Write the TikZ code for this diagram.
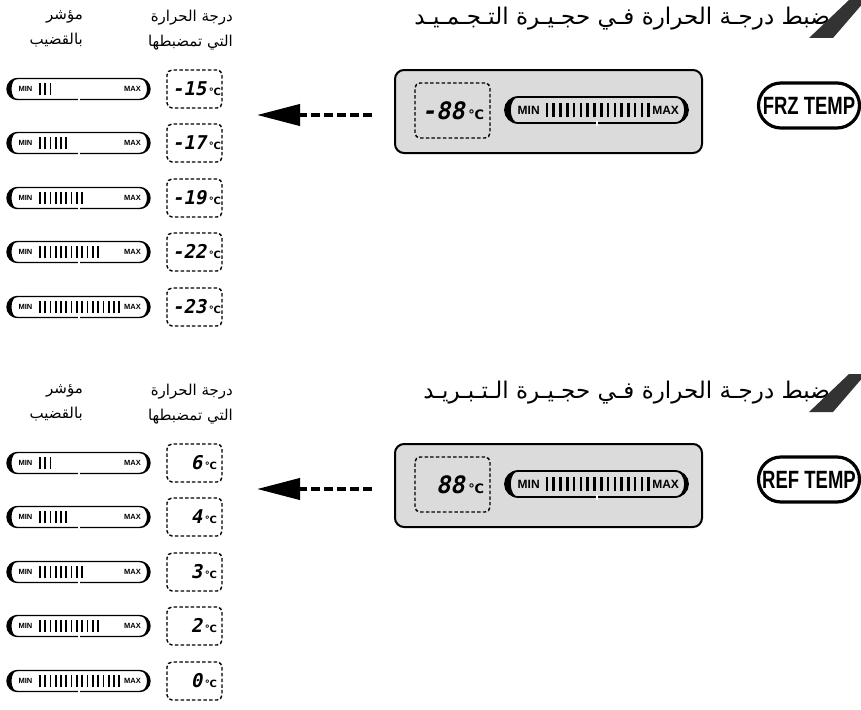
\documentclass[tikz,border=0pt]{standalone}
\usepackage{fontspec}
\usepackage{tikz}
\usetikzlibrary{arrows.meta}
\TeXXeTstate=1
\setmainfont{Liberation Sans}
\newfontfamily\arabicfont[Script=Arabic]{DejaVu Sans}
\newfontfamily\segfont[FakeSlant=0.2]{DejaVu Sans Mono}
\newfontfamily\degfont{DejaVu Sans}

\newcommand{\degc}[1][10]{\kern0.14em{\degfont\fontsize{#1}{#1}\selectfont ℃}}

% bar indicator: name, x, y, number of bars, extra scope options
\newcommand{\levelbar}[5]{%
	\begin{scope}[shift={(#2,-#3)},#5]
		\draw[barframe] (-61,10.5) -- (61,10.5) arc[start angle=90,end angle=-90,radius=10.5]
			-- (-61,-10.5) arc[start angle=270,end angle=90,radius=10.5] -- cycle;
		\fill (-61,10.5) arc[start angle=90,end angle=270,radius=10.5]
			arc[start angle=270,end angle=90,x radius=6,y radius=10.5] -- cycle;
		\fill (61,10.5) arc[start angle=90,end angle=-90,radius=10.5]
			arc[start angle=-90,end angle=90,x radius=7.5,y radius=10.5] -- cycle;
		\fill[white] (-0.5,-12.5) rectangle (1.5,-8.5);
		\node[minmax] (#1-min) at (-53,0) {MIN};
		\node[minmax] (#1-max) at (54,0) {MAX};
		\foreach \i in {1,...,#4}
			\draw[segbar] ({-44+5.3*\i},-6) -- ++(0,12);
	\end{scope}}

\begin{document}
\begin{tikzpicture}[x=1pt,y=1pt,
	heading/.style={font=\arabicfont\fontsize{23}{26}\selectfont, inner sep=0},
	colhead/.style={font=\arabicfont\fontsize{15}{25}\selectfont, align=right, inner sep=0},
	tempbox/.style={draw, dash pattern=on 3.5pt off 2.2pt, line width=1.4, rounded corners=5,
		minimum width=55, minimum height=38, text width=45, align=right, inner sep=2,
		font=\segfont\bfseries\fontsize{19}{19}\selectfont},
	readout/.style={tempbox, minimum width=75, minimum height=55, text width=63,
		font=\segfont\bfseries\fontsize{24}{24}\selectfont},
	lcdpanel/.style={draw, line width=2, fill=black!14, rounded corners=9,
		minimum width=307, minimum height=83},
	keybox/.style={draw, line width=3.2, rounded corners=22.5, minimum width=101,
		minimum height=45, inner sep=0, font=\bfseries\fontsize{25}{25}\selectfont},
	pointer/.style={line width=4, dash pattern=on 9pt off 4pt,
		-{Triangle[length=43pt,width=21pt]}},
	minmax/.style={font=\bfseries\fontsize{7.5}{7.5}\selectfont, inner sep=0},
	segbar/.style={line width=1.7},
	barframe/.style={line width=1.4},
	bigbar/.style={xscale=1.28, yscale=1.24, segbar/.style={line width=2.6},
		barframe/.style={line width=1.8}, minmax/.style={font=\bfseries\fontsize{12}{12}\selectfont, inner sep=0}}
	]
	\useasboundingbox (0,0) rectangle (861,-709);

	% freezer
	\node[heading, anchor=east] (fz-title) at (830,-19) {\beginR ضبط درجـة الحرارة فـي حجـيـرة التـجـمـيـد\endR};
	\fill[black!80] (809,-38) -- (833,-38) -- (864,-2) -- (864,0) -- (849,0) -- cycle;
	\node[colhead, anchor=north east] (fz-col-bar) at (83,-10) {\beginR مؤشر\endR\\\beginR بالقضيب\endR};
	\node[colhead, anchor=north east] (fz-col-set) at (233,-10) {\beginR درجة الحرارة\endR\\\beginR التي تمضبطها\endR};

	\foreach \y/\n/\t [count=\k] in {89/3/-15, 143/6/-17, 198/9/-19, 252/12/-22, 307/16/-23}{
		\levelbar{fz-bar\k}{78.5}{\y}{\n}{}
		\node[tempbox] (fz-temp\k) at (194.5,-\y) {\mbox{\t\degc}};
	}

	\node[lcdpanel] (fz-panel) at (548.5,-111.5) {};
	\node[readout] (fz-read) at (452.5,-110.5) {\mbox{-88\degc[13]}};
	\levelbar{fz-lcd}{596.5}{110}{16}{bigbar}
	\node[keybox] (fz-key) at (809,-105.5) {\scalebox{0.74}[1]{FRZ TEMP}};

	\coordinate (fz-tail) at (372,-115);
	\coordinate (fz-tip) at (257,-115);
	\draw[pointer] (fz-tail) -- (fz-tip);

	% refrigerator
	\node[heading, anchor=east] (rf-title) at (830,-393) {\beginR ضبط درجـة الحرارة فـي حجـيـرة الـتـبـريـد\endR};
	\fill[black!80] (809,-412) -- (833,-412) -- (864,-376) -- (864,-374) -- (849,-374) -- cycle;
	\node[colhead, anchor=north east] (rf-col-bar) at (83,-384) {\beginR مؤشر\endR\\\beginR بالقضيب\endR};
	\node[colhead, anchor=north east] (rf-col-set) at (233,-384) {\beginR درجة الحرارة\endR\\\beginR التي تمضبطها\endR};

	\foreach \y/\n/\t [count=\k] in {463/3/6, 517/6/4, 572/9/3, 626/12/2, 681/16/0}{
		\levelbar{rf-bar\k}{78.5}{\y}{\n}{}
		\node[tempbox] (rf-temp\k) at (194.5,-\y) {\mbox{\t\degc}};
	}

	\node[lcdpanel] (rf-panel) at (548.5,-485.5) {};
	\node[readout] (rf-read) at (452.5,-484.5) {\mbox{88\degc[13]}};
	\levelbar{rf-lcd}{596.5}{484}{16}{bigbar}
	\node[keybox] (rf-key) at (809,-479.5) {\scalebox{0.74}[1]{REF TEMP}};

	\coordinate (rf-tail) at (372,-489);
	\coordinate (rf-tip) at (257,-489);
	\draw[pointer] (rf-tail) -- (rf-tip);
\end{tikzpicture}
\end{document}
